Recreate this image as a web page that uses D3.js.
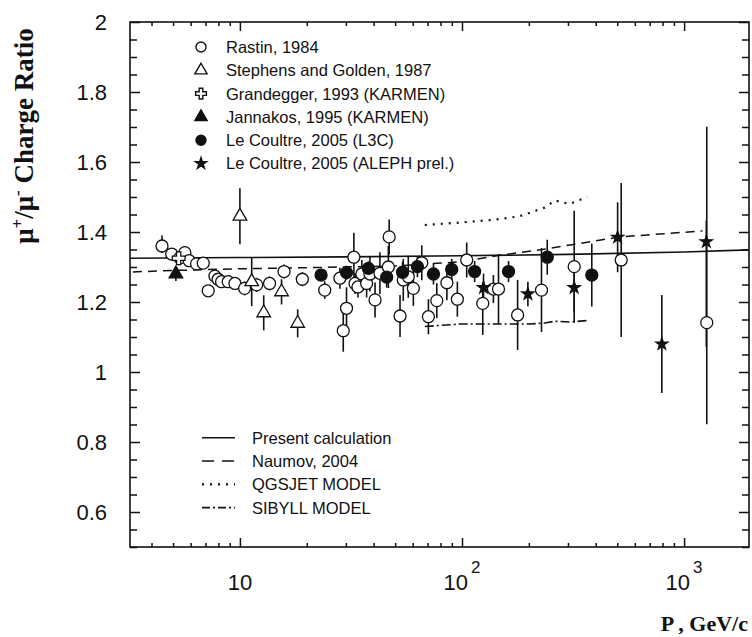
<!DOCTYPE html>
<html>
<head>
<meta charset="utf-8">
<script src="https://cdn.jsdelivr.net/npm/d3@7"></script>
<style>
  body { margin: 0; background: #fff; }
  text { font-family: "Liberation Sans", Arial, sans-serif; fill: #111; }
</style>
</head>
<body>
<svg id="chart" width="752" height="637"></svg>
<script>
// each point: [P (GeV/c), ratio, error down, error up]
var rastin = [
  [4.46, 1.360, 0.02, 0.03], [4.93, 1.337, 0.015, 0.015], [5.37, 1.326, 0.015, 0.015],
  [5.65, 1.341, 0.015, 0.015], [5.91, 1.318, 0.015, 0.015], [6.38, 1.309, 0.015, 0.015],
  [6.84, 1.311, 0.015, 0.015], [7.2, 1.232, 0.015, 0.015], [7.72, 1.274, 0.015, 0.015],
  [7.98, 1.265, 0.015, 0.015], [8.27, 1.258, 0.015, 0.015], [8.86, 1.258, 0.015, 0.015],
  [9.5, 1.253, 0.015, 0.015], [10.5, 1.239, 0.02, 0.02], [11.9, 1.249, 0.02, 0.02],
  [13.6, 1.253, 0.02, 0.02], [15.8, 1.287, 0.02, 0.02], [19.1, 1.265, 0.02, 0.02],
  [24.1, 1.234, 0.025, 0.025], [28.2, 1.268, 0.03, 0.03], [29.2, 1.118, 0.06, 0.06],
  [30.2, 1.182, 0.06, 0.06], [32.6, 1.328, 0.07, 0.07], [33, 1.253, 0.03, 0.03],
  [34, 1.243, 0.03, 0.03], [35.4, 1.28, 0.04, 0.04], [37.2, 1.253, 0.04, 0.04],
  [38.5, 1.28, 0.05, 0.05], [40.6, 1.206, 0.05, 0.05], [42.7, 1.282, 0.06, 0.06],
  [46.6, 1.30, 0.06, 0.06], [47, 1.386, 0.05, 0.05], [52.6, 1.16, 0.06, 0.06],
  [54.4, 1.263, 0.06, 0.06], [57.3, 1.272, 0.06, 0.06], [60.4, 1.239, 0.05, 0.05],
  [65.9, 1.312, 0.05, 0.05], [70.6, 1.158, 0.05, 0.05], [77, 1.204, 0.05, 0.05],
  [85.5, 1.255, 0.05, 0.05], [95.3, 1.208, 0.05, 0.05], [105, 1.32, 0.05, 0.05],
  [124, 1.196, 0.09, 0.06], [138.5, 1.237, 0.04, 0.04], [146, 1.237, 0.1, 0.1],
  [178, 1.163, 0.1, 0.1], [228, 1.234, 0.12, 0.12], [320, 1.301, 0.16, 0.16],
  [521, 1.32, 0.22, 0.22], [1265, 1.141, 0.29, 0.56]
];
var stephens = [
  [10, 1.445, 0.08, 0.08], [11.3, 1.258, 0.07, 0.07], [12.8, 1.169, 0.05, 0.05],
  [15.4, 1.229, 0.036, 0.036], [18.2, 1.139, 0.04, 0.04]
];
var grandegger = [[5.3, 1.325, 0.02, 0.02]];
var jannakos = [[5.15, 1.28, 0.02, 0.02]];
var l3c = [
  [23.2, 1.277, 0.015, 0.015], [30.2, 1.284, 0.02, 0.02], [37.9, 1.296, 0.02, 0.02],
  [45.8, 1.271, 0.03, 0.03], [54, 1.285, 0.03, 0.03], [63, 1.301, 0.03, 0.03],
  [74.4, 1.28, 0.03, 0.03], [89.9, 1.293, 0.03, 0.03], [114, 1.287, 0.03, 0.03],
  [162, 1.287, 0.03, 0.03], [242, 1.328, 0.05, 0.05], [384, 1.277, 0.09, 0.09]
];
var aleph = [
  [125, 1.241, 0.04, 0.04], [198, 1.223, 0.035, 0.035], [320, 1.241, 0.07, 0.07],
  [502, 1.385, 0.1, 0.1], [794, 1.08, 0.14, 0.14], [1259, 1.372, 0.3, 0.06]
];

// model curves: [P, ratio]
var presentCalc = [[3.2, 1.325], [10, 1.327], [30, 1.329], [100, 1.332], [300, 1.336], [1000, 1.343], [1960, 1.349]];
var naumov = [[3.3, 1.286], [5, 1.29], [10, 1.295], [20, 1.298], [50, 1.303], [100, 1.315],
  [150, 1.334], [225, 1.349], [515, 1.386], [1210, 1.403]];
var qgsjet = [[68, 1.42], [98, 1.427], [140, 1.435], [182, 1.445], [236, 1.47], [262, 1.49], [306, 1.48], [366, 1.50]];
var sibyll = [[68, 1.13], [98, 1.137], [150, 1.137], [200, 1.137], [236, 1.14], [262, 1.145], [306, 1.143], [366, 1.147]];

var xMajor = [10, 100, 1000];
var xLabelExp = ["", "2", "3"];
var yTicks = [0.6, 0.8, 1, 1.2, 1.4, 1.6, 1.8, 2];
var pointLegend = ["Rastin, 1984", "Stephens and Golden, 1987", "Grandegger, 1993 (KARMEN)",
  "Jannakos, 1995 (KARMEN)", "Le Coultre, 2005 (L3C)", "Le Coultre, 2005 (ALEPH prel.)"];
var lineLegend = ["Present calculation", "Naumov, 2004", "QGSJET MODEL", "SIBYLL MODEL"];

var svg = d3.select("#chart");
var margin = { left: 130, right: 749, top: 22, bottom: 547 };

var x = d3.scaleLog().domain([3.2, 1960]).range([margin.left, margin.right]);
var y = d3.scaleLinear().domain([0.5, 2]).range([margin.bottom, margin.top]);

var xMinor = x.ticks().filter(function(d) { return xMajor.indexOf(d) < 0; });
var yMinor = y.ticks(30).filter(function(d) { return yTicks.indexOf(+d.toFixed(2)) < 0; });

function tickGroup(axis, tr) {
  var g = svg.append("g").attr("transform", tr).call(axis);
  g.select(".domain").remove();
  g.selectAll(".tick line").attr("stroke", "#111").attr("stroke-width", 1.5);
  g.selectAll(".tick text").remove();
}
tickGroup(d3.axisBottom(x).tickValues(xMajor).tickSize(-9), "translate(0," + margin.bottom + ")");
tickGroup(d3.axisBottom(x).tickValues(xMinor).tickSize(-4), "translate(0," + margin.bottom + ")");
tickGroup(d3.axisTop(x).tickValues(xMajor).tickSize(-9), "translate(0," + margin.top + ")");
tickGroup(d3.axisTop(x).tickValues(xMinor).tickSize(-4), "translate(0," + margin.top + ")");
tickGroup(d3.axisLeft(y).tickValues(yTicks).tickSize(-10), "translate(" + margin.left + ",0)");
tickGroup(d3.axisLeft(y).tickValues(yMinor).tickSize(-7), "translate(" + margin.left + ",0)");
tickGroup(d3.axisRight(y).tickValues(yTicks).tickSize(-10), "translate(" + margin.right + ",0)");
tickGroup(d3.axisRight(y).tickValues(yMinor).tickSize(-7), "translate(" + margin.right + ",0)");

svg.append("rect")
  .attr("x", margin.left).attr("y", margin.top)
  .attr("width", margin.right - margin.left).attr("height", margin.bottom - margin.top)
  .attr("fill", "none").attr("stroke", "#111").attr("stroke-width", 1.6);

// y tick labels
svg.append("g").selectAll("text").data(yTicks).join("text")
  .attr("x", margin.left - 23).attr("y", function(d) { return y(d); })
  .attr("dy", "0.36em").attr("text-anchor", "end")
  .style("font-size", "22px")
  .text(function(d) { return String(d); });

// x tick labels with exponents
var xl = svg.append("g").selectAll("text").data(xMajor).join("text")
  .attr("x", function(d) { return x(d); }).attr("y", 590)
  .attr("text-anchor", "middle").style("font-size", "22px");
xl.append("tspan").text("10");
xl.append("tspan").attr("dx", 3).attr("dy", -17).style("font-size", "17px")
  .text(function(d, i) { return xLabelExp[i]; });

// axis titles
svg.append("text")
  .attr("transform", "translate(33,136) rotate(-90)")
  .attr("text-anchor", "middle")
  .style("font-family", "'Liberation Serif', 'Times New Roman', serif")
  .style("font-weight", "bold").style("font-size", "27px")
  .call(function(t) {
    t.append("tspan").text("\u03bc");
    t.append("tspan").attr("dy", -10).style("font-size", "17px").text("+");
    t.append("tspan").attr("dy", 10).text("/\u03bc");
    t.append("tspan").attr("dy", -10).style("font-size", "17px").text("-");
    t.append("tspan").attr("dy", 10).text(" Charge Ratio");
  });
svg.append("text")
  .attr("x", 748).attr("y", 631).attr("text-anchor", "end")
  .style("font-family", "'Liberation Serif', 'Times New Roman', serif")
  .style("font-weight", "bold").style("font-size", "22px")
  .text("P , GeV/c");

// curves
var line = d3.line().x(function(d) { return x(d[0]); }).y(function(d) { return y(d[1]); });
var curves = [
  { data: presentCalc, dash: null, w: 1.6 },
  { data: naumov, dash: "9,6", w: 1.5 },
  { data: qgsjet, dash: "2,6", w: 2.2 },
  { data: sibyll, dash: "9,3,2,3", w: 1.6 }
];
curves.forEach(function(c) {
  svg.append("path").datum(c.data).attr("d", line)
    .attr("fill", "none").attr("stroke", "#111").attr("stroke-width", c.w)
    .attr("stroke-dasharray", c.dash);
});

// markers
var series = [
  { data: rastin, type: d3.symbolCircle, size: 113, fill: "#fff" },
  { data: stephens, type: d3.symbolTriangle, size: 80, fill: "#fff" },
  { data: grandegger, type: d3.symbolCross, size: 90, fill: "#fff" },
  { data: jannakos, type: d3.symbolTriangle, size: 80, fill: "#111" },
  { data: l3c, type: d3.symbolCircle, size: 113, fill: "#111" },
  { data: aleph, type: d3.symbolStar, size: 45, fill: "#111" }
];

series.forEach(function(s) {
  svg.append("g").selectAll("line").data(s.data).join("line")
    .attr("x1", function(d) { return x(d[0]); }).attr("x2", function(d) { return x(d[0]); })
    .attr("y1", function(d) { return y(d[1] - d[2]); })
    .attr("y2", function(d) { return y(d[1] + d[3]); })
    .attr("stroke", "#111").attr("stroke-width", 1.6);
});
series.forEach(function(s) {
  svg.append("g").selectAll("path").data(s.data).join("path")
    .attr("transform", function(d) { return "translate(" + x(d[0]) + "," + y(d[1]) + ")"; })
    .attr("d", d3.symbol(s.type, s.size))
    .attr("fill", s.fill).attr("stroke", "#111").attr("stroke-width", 1.3);
});

// legends
var lg = svg.append("g");
pointLegend.forEach(function(label, i) {
  var ly = 47 + i * 23.3;
  lg.append("path").attr("transform", "translate(201," + ly + ")")
    .attr("d", d3.symbol(series[i].type, series[i].type === d3.symbolStar ? 40 : series[i].type === d3.symbolCircle ? 80 : 65))
    .attr("fill", series[i].fill).attr("stroke", "#111").attr("stroke-width", 1.4);
  lg.append("text").attr("x", 226).attr("y", ly).attr("dy", "0.36em")
    .style("font-size", "16.5px").text(label);
});
lineLegend.forEach(function(label, i) {
  var ly = 437.7 + i * 23.3;
  lg.append("line").attr("x1", 202).attr("x2", 235).attr("y1", ly).attr("y2", ly)
    .attr("stroke", "#111").attr("stroke-width", curves[i].w)
    .attr("stroke-dasharray", i === 1 ? "12,8" : i === 2 ? "2,6" : i === 3 ? "8,3,2,3" : null);
  lg.append("text").attr("x", 252).attr("y", ly).attr("dy", "0.36em")
    .style("font-size", "16.5px").text(label);
});
</script>
</body>
</html>
